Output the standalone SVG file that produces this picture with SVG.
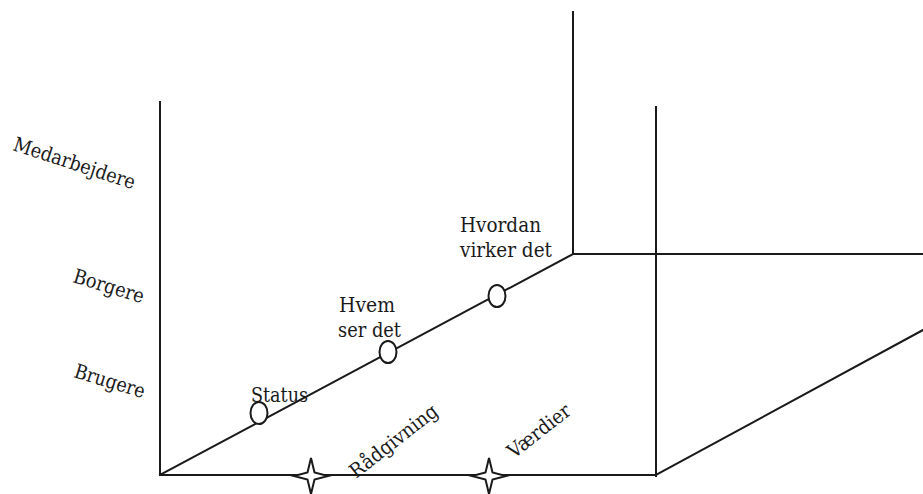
<svg xmlns="http://www.w3.org/2000/svg" width="923" height="494" viewBox="0 0 923 494">
<style>
.ln{stroke:#1a1a1a;stroke-width:2;fill:none;stroke-linecap:square}
.mk{stroke:#1a1a1a;stroke-width:2;fill:#fff}
.t{font-family:'DejaVu Serif',serif;font-size:20px;fill:#1a1a1a}
</style>
<rect width="923" height="494" fill="#fff"/>
<g id="connectors">
<line class="ln" x1="160" y1="102" x2="160" y2="475"/>
<line class="ln" x1="160" y1="475" x2="656" y2="475"/>
<line class="ln" x1="656" y1="107" x2="656" y2="476"/>
<line class="ln" x1="573" y1="12" x2="573" y2="254"/>
<line class="ln" x1="573" y1="254" x2="923" y2="254"/>
<line class="ln" x1="160" y1="475" x2="573" y2="254"/>
<line class="ln" x1="656" y1="475" x2="923" y2="330"/>
</g>
<g id="axis-labels">
<text class="t" transform="translate(12,150) rotate(18)" textLength="127" lengthAdjust="spacingAndGlyphs">Medarbejdere</text>
<text class="t" transform="translate(72,282) rotate(17)" textLength="73" lengthAdjust="spacingAndGlyphs">Borgere</text>
<text class="t" transform="translate(73,377) rotate(17)" textLength="73" lengthAdjust="spacingAndGlyphs">Brugere</text>
</g>
<g id="status">
<ellipse class="mk" cx="259" cy="413" rx="8.5" ry="11"/>
<text class="t" x="251" y="402" textLength="57" lengthAdjust="spacingAndGlyphs">Status</text>
</g>
<g id="hvem">
<ellipse class="mk" cx="388" cy="352" rx="8.5" ry="11"/>
<text class="t" x="339" y="312" textLength="56" lengthAdjust="spacingAndGlyphs">Hvem</text>
<text class="t" x="338" y="337" textLength="63" lengthAdjust="spacingAndGlyphs">ser det</text>
</g>
<g id="hvordan">
<ellipse class="mk" cx="497" cy="296" rx="8.5" ry="11"/>
<text class="t" x="460" y="232" textLength="81" lengthAdjust="spacingAndGlyphs">Hvordan</text>
<text class="t" x="460" y="257" textLength="92" lengthAdjust="spacingAndGlyphs">virker det</text>
</g>
<g id="raadgivning">
<path class="mk" d="M311,458 L314.5,472.5 L328,476 L314.5,479.5 L311,494 L307.5,479.5 L294,476 L307.5,472.5 Z"/>
<text class="t" transform="translate(356,479) rotate(-38)" textLength="106" lengthAdjust="spacingAndGlyphs">Rådgivning</text>
</g>
<g id="vaerdier">
<path class="mk" d="M489,458 L492.5,472.5 L506,476 L492.5,479.5 L489,494 L485.5,479.5 L472,476 L485.5,472.5 Z"/>
<text class="t" transform="translate(514,459) rotate(-38)" textLength="74" lengthAdjust="spacingAndGlyphs">Værdier</text>
</g>
</svg>
